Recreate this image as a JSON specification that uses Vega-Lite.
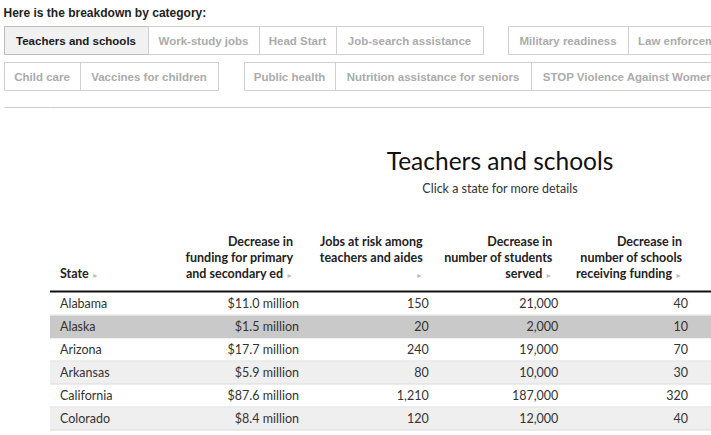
{
  "$schema": "https://vega.github.io/schema/vega-lite/v6.json",
  "background": "white",
  "padding": {"left": 3, "top": 6, "right": 0, "bottom": 0},
  "title": {"text": "Here is the breakdown by category:", "anchor": "start", "font": "Liberation Sans", "fontSize": 12, "fontWeight": "bold", "color": "#222222", "offset": 6},
  "datasets": {
    "states": [
      {"state": "Alabama", "funding": 11.0, "jobs": 150, "students": 21000, "schools": 40},
      {"state": "Alaska", "funding": 1.5, "jobs": 20, "students": 2000, "schools": 10},
      {"state": "Arizona", "funding": 17.7, "jobs": 240, "students": 19000, "schools": 70},
      {"state": "Arkansas", "funding": 5.9, "jobs": 80, "students": 10000, "schools": 30},
      {"state": "California", "funding": 87.6, "jobs": 1210, "students": 187000, "schools": 320},
      {"state": "Colorado", "funding": 8.4, "jobs": 120, "students": 12000, "schools": 40}
    ],
    "headers": [
      {"column": "state", "top": "", "bottom": "State"},
      {"column": "funding", "top": ["Decrease in", "funding for primary"], "bottom": "and secondary ed"},
      {"column": "jobs", "top": ["Jobs at risk among", "teachers and aides"], "bottom": ""},
      {"column": "students", "top": ["Decrease in", "number of students"], "bottom": "served"},
      {"column": "schools", "top": ["Decrease in", "number of schools"], "bottom": "receiving funding"}
    ]
  },
  "spacing": 15,
  "vconcat": [
    {
      "spacing": 6,
      "vconcat": [
        {
          "spacing": 23,
          "hconcat": [
            {
              "spacing": 0, "bounds": "flush",
              "hconcat": [
                {"width": 144, "height": 28, "data": {"values": [{"category": "Teachers and schools"}]}, "view": {"stroke": "#bdbdbd", "fill": "#f1f1f1"}, "mark": {"type": "text", "font": "Liberation Sans", "fontSize": 11.5, "fontWeight": "bold", "color": "#1a1a1a", "baseline": "middle", "dy": 1.5}, "encoding": {"text": {"field": "category"}}},
                {"width": 111, "height": 28, "data": {"values": [{"category": "Work-study jobs"}]}, "view": {"stroke": "#d0d0d0"}, "mark": {"type": "text", "font": "Liberation Sans", "fontSize": 11.5, "fontWeight": "bold", "color": "#ababab", "baseline": "middle", "dy": 1.5}, "encoding": {"text": {"field": "category"}}},
                {"width": 77, "height": 28, "data": {"values": [{"category": "Head Start"}]}, "view": {"stroke": "#d0d0d0"}, "mark": {"type": "text", "font": "Liberation Sans", "fontSize": 11.5, "fontWeight": "bold", "color": "#ababab", "baseline": "middle", "dy": 1.5}, "encoding": {"text": {"field": "category"}}},
                {"width": 147, "height": 28, "data": {"values": [{"category": "Job-search assistance"}]}, "view": {"stroke": "#d0d0d0"}, "mark": {"type": "text", "font": "Liberation Sans", "fontSize": 11.5, "fontWeight": "bold", "color": "#ababab", "baseline": "middle", "dy": 1.5}, "encoding": {"text": {"field": "category"}}}
              ]
            },
            {
              "spacing": 0, "bounds": "flush",
              "hconcat": [
                {"width": 120, "height": 28, "data": {"values": [{"category": "Military readiness"}]}, "view": {"stroke": "#d0d0d0"}, "mark": {"type": "text", "font": "Liberation Sans", "fontSize": 11.5, "fontWeight": "bold", "color": "#ababab", "baseline": "middle", "dy": 1.5}, "encoding": {"text": {"field": "category"}}},
                {"width": 83.5, "height": 28, "data": {"values": [{"category": "Law enforcement"}]}, "view": {"stroke": "#d0d0d0", "strokeDash": [83.5, 28, 83.5, 28]}, "mark": {"type": "text", "font": "Liberation Sans", "fontSize": 11.5, "fontWeight": "bold", "color": "#ababab", "baseline": "middle", "dy": 1.5, "align": "left", "dx": -31.75, "clip": true}, "encoding": {"text": {"field": "category"}}}
              ]
            }
          ]
        },
        {
          "spacing": 24,
          "hconcat": [
            {
              "spacing": 0, "bounds": "flush",
              "hconcat": [
                {"width": 76, "height": 28, "data": {"values": [{"category": "Child care"}]}, "view": {"stroke": "#d0d0d0"}, "mark": {"type": "text", "font": "Liberation Sans", "fontSize": 11.5, "fontWeight": "bold", "color": "#ababab", "baseline": "middle", "dy": 1.5}, "encoding": {"text": {"field": "category"}}},
                {"width": 138, "height": 28, "data": {"values": [{"category": "Vaccines for children"}]}, "view": {"stroke": "#d0d0d0"}, "mark": {"type": "text", "font": "Liberation Sans", "fontSize": 11.5, "fontWeight": "bold", "color": "#ababab", "baseline": "middle", "dy": 1.5}, "encoding": {"text": {"field": "category"}}}
              ]
            },
            {
              "spacing": 0, "bounds": "flush",
              "hconcat": [
                {"width": 91, "height": 28, "data": {"values": [{"category": "Public health"}]}, "view": {"stroke": "#d0d0d0"}, "mark": {"type": "text", "font": "Liberation Sans", "fontSize": 11.5, "fontWeight": "bold", "color": "#ababab", "baseline": "middle", "dy": 1.5}, "encoding": {"text": {"field": "category"}}},
                {"width": 196, "height": 28, "data": {"values": [{"category": "Nutrition assistance for seniors"}]}, "view": {"stroke": "#d0d0d0"}, "mark": {"type": "text", "font": "Liberation Sans", "fontSize": 11.5, "fontWeight": "bold", "color": "#ababab", "baseline": "middle", "dy": 1.5}, "encoding": {"text": {"field": "category"}}},
                {"width": 180.5, "height": 28, "data": {"values": [{"category": "STOP Violence Against Women"}]}, "view": {"stroke": "#d0d0d0", "strokeDash": [180.5, 28, 180.5, 28]}, "mark": {"type": "text", "font": "Liberation Sans", "fontSize": 11.5, "fontWeight": "bold", "color": "#ababab", "baseline": "middle", "dy": 1.5, "align": "left", "dx": -78.5, "clip": true}, "encoding": {"text": {"field": "category"}}}
              ]
            }
          ]
        }
      ]
    },
    {
      "spacing": 0, "bounds": "flush",
      "hconcat": [
        {"width": 45.5, "height": 1, "data": {"values": []}, "view": {"stroke": "#cccccc", "strokeDash": [45.5, 100000]}, "mark": "rect", "encoding": {}},
        {
          "width": 661, "height": 323.5,
          "view": {"stroke": "#cccccc", "strokeDash": [661, 100000]},
          "title": {"text": "Teachers and schools", "subtitle": "Click a state for more details", "anchor": "middle", "frame": "group", "dx": 119.5, "offset": -89, "font": "Lato", "fontSize": 24.5, "fontWeight": "normal", "color": "#111111", "subtitleFont": "Lato", "subtitleFontSize": 12.5, "subtitleColor": "#333333", "subtitlePadding": 7},
          "data": {"name": "states"},
          "layer": [
            {
              "mark": {"type": "rect"},
              "encoding": {
                "y": {"field": "state", "type": "nominal", "axis": null, "scale": {"domain": ["Alabama", "Alaska", "Arizona", "Arkansas", "California", "Colorado"], "range": [185.5, 323.5], "paddingInner": 0, "paddingOuter": 0}},
                "color": {"field": "state", "type": "nominal", "legend": null, "scale": {"domain": ["Alabama", "Alaska", "Arizona", "Arkansas", "California", "Colorado"], "range": ["#ffffff", "#c9c9c9", "#ffffff", "#efefef", "#ffffff", "#efefef"]}}
              }
            },
            {
              "transform": [{"filter": "datum.state != 'Alaska'"}],
              "mark": {"type": "rule", "color": "#dddddd", "strokeWidth": 1, "yOffset": -0.5},
              "encoding": {"y": {"field": "state", "type": "nominal", "bandPosition": 1}}
            },
            {
              "transform": [{"filter": "datum.state == 'Alabama'"}],
              "mark": {"type": "rule", "color": "#111111", "strokeWidth": 2, "yOffset": -1},
              "encoding": {"y": {"field": "state", "type": "nominal", "bandPosition": 0}}
            },
            {
              "transform": [{"fold": ["state"], "as": ["column", "value"]}],
              "mark": {"type": "text", "align": "left", "baseline": "middle", "dx": -109.33, "font": "Lato", "fontSize": 12.5, "color": "#333333"},
              "encoding": {
                "x": {"field": "column", "type": "nominal", "axis": null, "scale": {"domain": ["state", "funding", "jobs", "students", "schools"], "range": [54.5, 702.83], "paddingInner": 0, "paddingOuter": 0}},
                "y": {"field": "state", "type": "nominal"},
                "text": {"field": "value", "type": "nominal"}
              }
            },
            {
              "transform": [{"fold": ["funding"], "as": ["column", "value"]}],
              "mark": {"type": "text", "align": "right", "baseline": "middle", "font": "Lato", "fontSize": 12.5, "color": "#333333"},
              "encoding": {
                "x": {"field": "column", "type": "nominal"},
                "y": {"field": "state", "type": "nominal"},
                "text": {"field": "value", "type": "quantitative", "format": "$.1f"}
              }
            },
            {
              "transform": [{"fold": ["jobs", "students", "schools"], "as": ["column", "value"]}],
              "mark": {"type": "text", "align": "right", "baseline": "middle", "font": "Lato", "fontSize": 12.5, "color": "#333333"},
              "encoding": {
                "x": {"field": "column", "type": "nominal"},
                "y": {"field": "state", "type": "nominal"},
                "text": {"field": "value", "type": "quantitative", "format": ","}
              }
            },
            {
              "data": {"name": "headers"},
              "mark": {"type": "text", "align": "right", "baseline": "alphabetic", "dx": -6, "dy": -58.5, "lineHeight": 16, "font": "Lato", "fontSize": 12.5, "fontWeight": "bold", "color": "#222222"},
              "encoding": {
                "x": {"field": "column", "type": "nominal"},
                "y": {"datum": "Alabama", "type": "nominal"},
                "text": {"field": "top", "type": "nominal"}
              }
            },
            {
              "data": {"name": "headers"},
              "transform": [{"filter": "datum.column != 'state'"}],
              "mark": {"type": "text", "align": "right", "baseline": "alphabetic", "dx": -16, "dy": -26.5, "font": "Lato", "fontSize": 12.5, "fontWeight": "bold", "color": "#222222"},
              "encoding": {
                "x": {"field": "column", "type": "nominal"},
                "y": {"datum": "Alabama", "type": "nominal"},
                "text": {"field": "bottom", "type": "nominal"}
              }
            },
            {
              "data": {"name": "headers"},
              "transform": [{"filter": "datum.column == 'state'"}],
              "mark": {"type": "text", "align": "left", "baseline": "alphabetic", "dx": -109.33, "dy": -26.5, "font": "Lato", "fontSize": 12.5, "fontWeight": "bold", "color": "#222222"},
              "encoding": {
                "x": {"field": "column", "type": "nominal"},
                "y": {"datum": "Alabama", "type": "nominal"},
                "text": {"field": "bottom", "type": "nominal"}
              }
            },
            {
              "data": {"name": "headers"},
              "transform": [{"filter": "datum.column != 'state'"}],
              "mark": {"type": "text", "text": "▸", "align": "right", "baseline": "alphabetic", "dx": -7.5, "dy": -26.5, "font": "DejaVu Sans", "fontSize": 8, "color": "#bbbbbb"},
              "encoding": {
                "x": {"field": "column", "type": "nominal"},
                "y": {"datum": "Alabama", "type": "nominal"}
              }
            },
            {
              "data": {"name": "headers"},
              "transform": [{"filter": "datum.column == 'state'"}],
              "mark": {"type": "text", "text": "▸", "align": "left", "baseline": "alphabetic", "dx": -76, "dy": -26.5, "font": "DejaVu Sans", "fontSize": 8, "color": "#bbbbbb"},
              "encoding": {
                "x": {"field": "column", "type": "nominal"},
                "y": {"datum": "Alabama", "type": "nominal"}
              }
            }
          ]
        }
      ]
    }
  ],
  "config": {
    "view": {"stroke": null},
    "locale": {"number": {"decimal": ".", "thousands": ",", "grouping": [3], "currency": ["$", " million"]}}
  }
}
